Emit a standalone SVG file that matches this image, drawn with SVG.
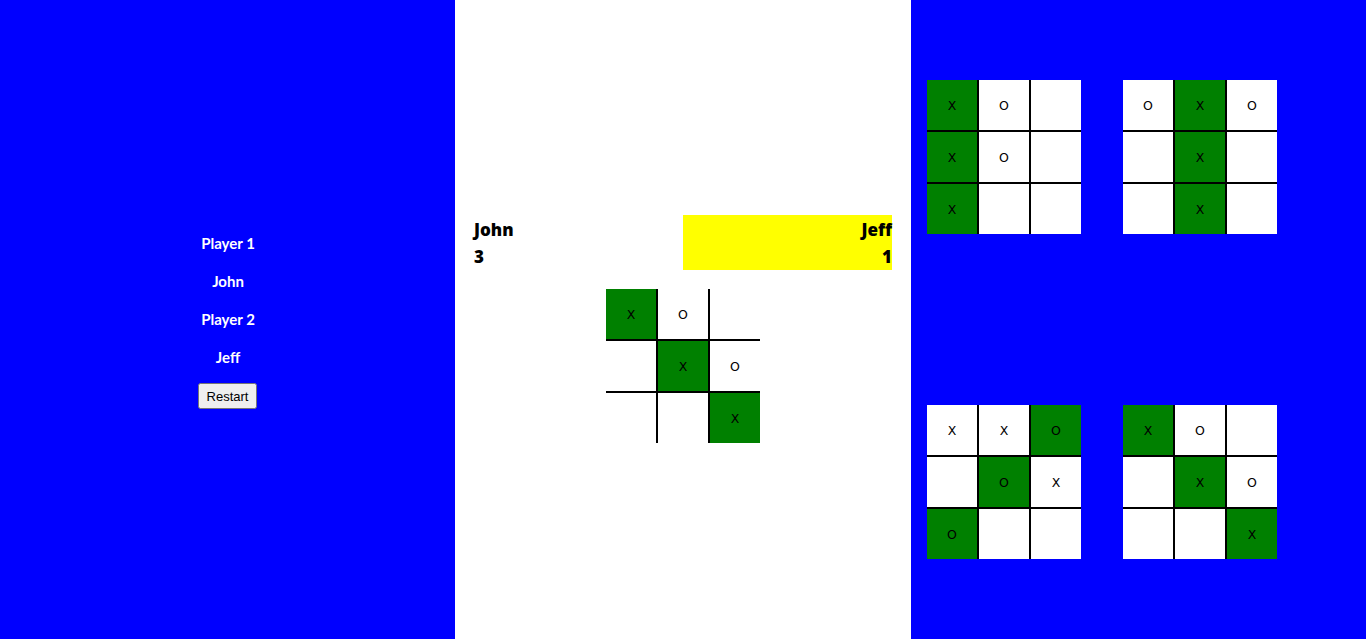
<svg xmlns="http://www.w3.org/2000/svg" width="1366" height="639" viewBox="0 0 1366 639">
<style>
.side{font-family:Lato,"Open Sans",sans-serif;font-weight:700;font-size:15px;fill:#fff;text-anchor:middle}
.score{font-family:"Open Sans",Lato,sans-serif;font-weight:800;font-size:17px;fill:#000}
.cell{font-family:"DejaVu Sans",sans-serif;font-size:12.5px;fill:#000;text-anchor:middle}
.g{fill:#008000}
.ln{fill:#000}
.btn{font-family:"Liberation Sans",Arial,sans-serif;font-size:13px;fill:#000;text-anchor:middle}
</style>
<defs>
<g id="grid">
<rect x="50" y="0" width="2" height="154" class="ln"/>
<rect x="102" y="0" width="2" height="154" class="ln"/>
<rect x="0" y="50" width="154" height="2" class="ln"/>
<rect x="0" y="102" width="154" height="2" class="ln"/>
</g>
</defs>
<rect x="0" y="0" width="455" height="639" fill="#0000ff"/>
<rect x="455" y="0" width="456" height="639" fill="#fff"/>
<rect x="911" y="0" width="455" height="639" fill="#0000ff"/>

<g id="settings">
<text class="side" x="228" y="249">Player 1</text>
<text class="side" x="228" y="287">John</text>
<text class="side" x="228" y="325">Player 2</text>
<text class="side" x="228" y="363">Jeff</text>
<g id="restart">
<rect x="198.5" y="383.5" width="58" height="25" rx="2" fill="#efefef" stroke="#767676"/>
<text class="btn" x="227.5" y="401">Restart</text>
</g>
</g>

<g id="scoreboard">
<rect x="683" y="215" width="209" height="55" fill="#ffff00"/>
<text class="score" x="474" y="236">John</text>
<text class="score" x="474" y="263">3</text>
<text class="score" x="892" y="236" text-anchor="end">Jeff</text>
<text class="score" x="892" y="263" text-anchor="end">1</text>
</g>

<g id="main-board" transform="translate(606,289)">
<rect x="0" y="0" width="50" height="50" class="g"/>
<rect x="52" y="52" width="50" height="50" class="g"/>
<rect x="104" y="104" width="50" height="50" class="g"/>
<use href="#grid"/>
<text class="cell" x="25" y="30">X</text>
<text class="cell" x="77" y="30">O</text>
<text class="cell" x="77" y="82">X</text>
<text class="cell" x="129" y="82">O</text>
<text class="cell" x="129" y="134">X</text>
</g>

<g id="history-1" transform="translate(927,80)">
<rect x="0" y="0" width="154" height="154" fill="#fff"/>
<rect x="0" y="0" width="50" height="50" class="g"/>
<rect x="0" y="52" width="50" height="50" class="g"/>
<rect x="0" y="104" width="50" height="50" class="g"/>
<use href="#grid"/>
<text class="cell" x="25" y="30">X</text>
<text class="cell" x="77" y="30">O</text>
<text class="cell" x="25" y="82">X</text>
<text class="cell" x="77" y="82">O</text>
<text class="cell" x="25" y="134">X</text>
</g>

<g id="history-2" transform="translate(1123,80)">
<rect x="0" y="0" width="154" height="154" fill="#fff"/>
<rect x="52" y="0" width="50" height="50" class="g"/>
<rect x="52" y="52" width="50" height="50" class="g"/>
<rect x="52" y="104" width="50" height="50" class="g"/>
<use href="#grid"/>
<text class="cell" x="25" y="30">O</text>
<text class="cell" x="77" y="30">X</text>
<text class="cell" x="129" y="30">O</text>
<text class="cell" x="77" y="82">X</text>
<text class="cell" x="77" y="134">X</text>
</g>

<g id="history-3" transform="translate(927,405)">
<rect x="0" y="0" width="154" height="154" fill="#fff"/>
<rect x="104" y="0" width="50" height="50" class="g"/>
<rect x="52" y="52" width="50" height="50" class="g"/>
<rect x="0" y="104" width="50" height="50" class="g"/>
<use href="#grid"/>
<text class="cell" x="25" y="30">X</text>
<text class="cell" x="77" y="30">X</text>
<text class="cell" x="129" y="30">O</text>
<text class="cell" x="77" y="82">O</text>
<text class="cell" x="129" y="82">X</text>
<text class="cell" x="25" y="134">O</text>
</g>

<g id="history-4" transform="translate(1123,405)">
<rect x="0" y="0" width="154" height="154" fill="#fff"/>
<rect x="0" y="0" width="50" height="50" class="g"/>
<rect x="52" y="52" width="50" height="50" class="g"/>
<rect x="104" y="104" width="50" height="50" class="g"/>
<use href="#grid"/>
<text class="cell" x="25" y="30">X</text>
<text class="cell" x="77" y="30">O</text>
<text class="cell" x="77" y="82">X</text>
<text class="cell" x="129" y="82">O</text>
<text class="cell" x="129" y="134">X</text>
</g>
</svg>
